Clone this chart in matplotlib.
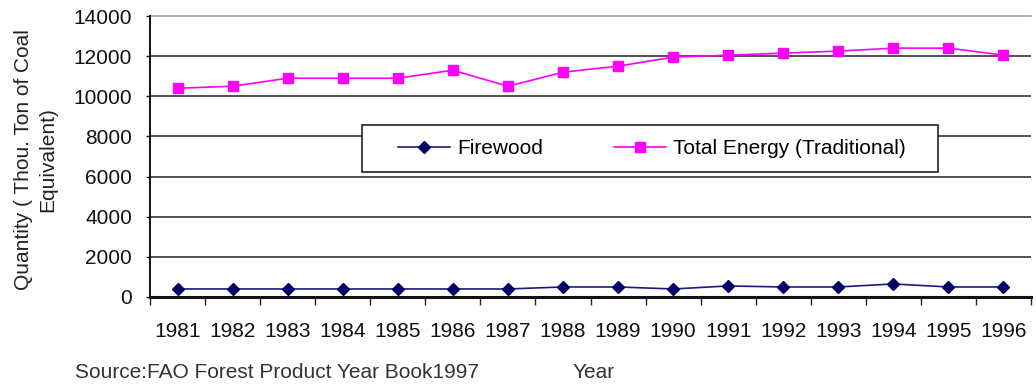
import matplotlib
matplotlib.use('Agg')
import matplotlib.pyplot as plt
from matplotlib.patches import Rectangle
import numpy as np

plt.rcParams['font.family'] = ['Liberation Sans', 'DejaVu Sans']

years = ['1981', '1982', '1983', '1984', '1985', '1986', '1987', '1988',
         '1989', '1990', '1991', '1992', '1993', '1994', '1995', '1996']
firewood = [400, 400, 400, 400, 400, 400, 400, 500,
            500, 400, 550, 500, 500, 650, 500, 500]
total_energy = [10400, 10500, 10900, 10900, 10900, 11300, 10500, 11200,
                11500, 11950, 12050, 12150, 12250, 12400, 12400, 12050]
yticks = [0, 2000, 4000, 6000, 8000, 10000, 12000, 14000]

W, H = 1036, 387
FS = 15

fig = plt.figure(figsize=(W / 100, H / 100), dpi=100)
ax = fig.add_axes([150 / W, 90 / H, 881 / W, 281 / H])

x = np.arange(len(years))
ax.plot(x, firewood, color='#1a1a80', lw=1.2, marker='D', ms=6.5,
        mfc='#000066', mec='#000066', label='Firewood', zorder=3)
ax.plot(x, total_energy, color='#ff00ff', lw=1.2, marker='s', ms=7,
        label='Total Energy (Traditional)', zorder=3)

ax.set_xlim(-0.5, len(years) - 0.5)
ax.set_ylim(0, 14000)

ax.set_yticks(yticks)
ax.set_yticklabels([str(v) for v in yticks], fontsize=FS, color='#111111')
for v in yticks[1:-1]:
    ax.axhline(v, color='#333333', lw=1.2, zorder=1)
ax.axhline(14000, color='#a0a0a0', lw=1.2, zorder=1, clip_on=False)

ax.set_xticks(x)
ax.set_xticklabels(years, fontsize=FS, color='#111111')
ax.set_xticks(np.arange(len(years) + 1) - 0.5, minor=True)
ax.tick_params(axis='x', which='major', length=0, pad=18)
ax.tick_params(axis='x', which='minor', length=6, width=1.0, color='#222222', direction='out')
ax.tick_params(axis='y', length=3, width=1.0, color='#222222', direction='out', pad=10)

for s in ['top', 'right']:
    ax.spines[s].set_visible(False)
ax.spines['left'].set_color('#111111')
ax.spines['left'].set_linewidth(1.4)
ax.spines['bottom'].set_color('#111111')
ax.spines['bottom'].set_linewidth(2.2)

# y label as figure text so both lines sit where wanted
fig.text(36 / W, 1 - 160 / H, 'Quantity ( Thou. Ton of Coal\nEquivalent)',
         rotation=90, fontsize=FS, color='#222222', ha='center', va='center',
         linespacing=1.35)

# legend box drawn separately, entries placed inside it
fig.patches.append(Rectangle((362 / W, 1 - 172 / H), 576 / W, 47 / H,
                             transform=fig.transFigure, facecolor='white',
                             edgecolor='#222222', lw=1.2, zorder=5))
leg = fig.legend(*ax.get_legend_handles_labels(), loc='center left',
                 bbox_to_anchor=(398 / W, 1 - 148.5 / H), ncol=2,
                 fontsize=FS, frameon=False, handlelength=2.5,
                 columnspacing=3.4, borderpad=0, borderaxespad=0,
                 handletextpad=0.33)
leg.set_zorder(6)

fig.text(75 / W, 1 - 372 / H, 'Source:FAO Forest Product Year Book1997',
         fontsize=FS, color='#333333', va='center', ha='left')
fig.text(573 / W, 1 - 372 / H, 'Year', fontsize=FS, color='#333333',
         va='center', ha='left')

fig.savefig('out.png', dpi=100)
